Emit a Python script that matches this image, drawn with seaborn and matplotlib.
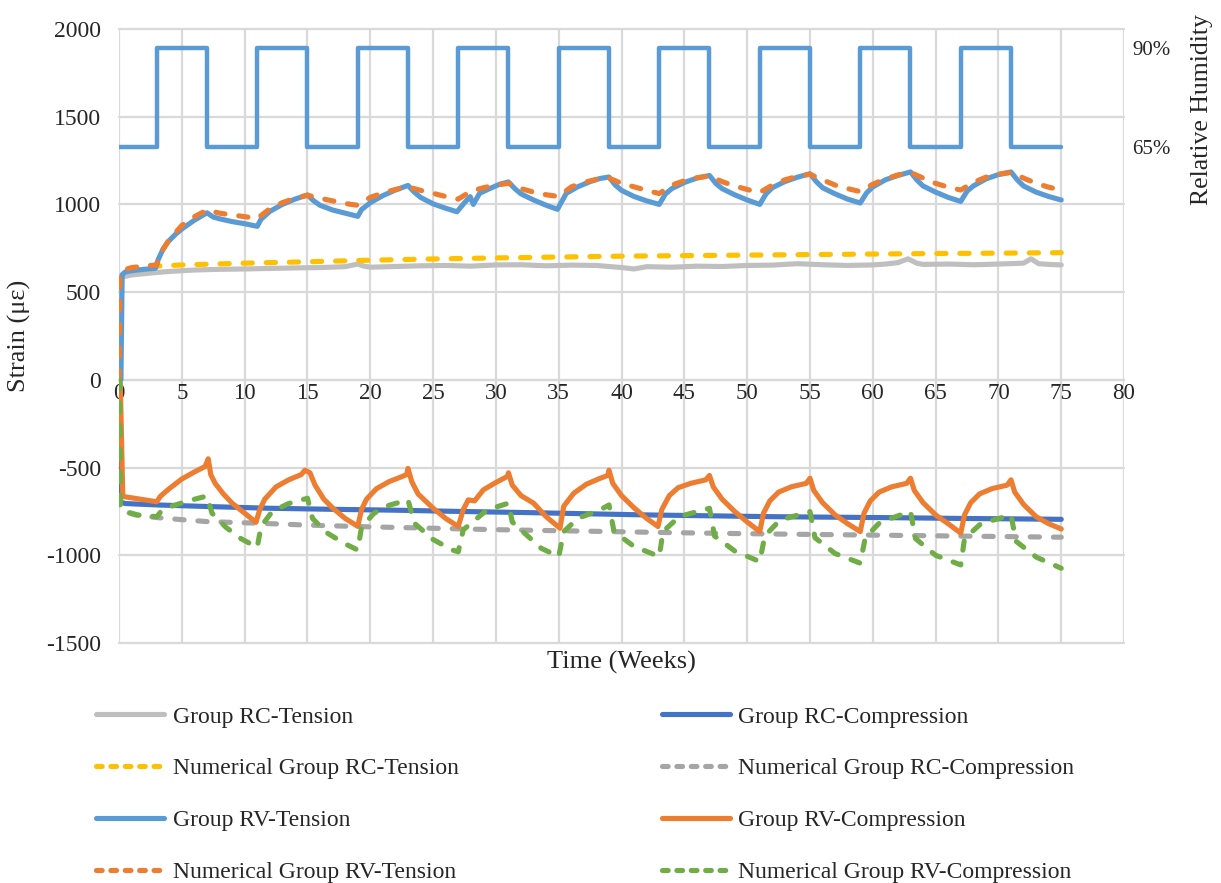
import matplotlib
matplotlib.use("Agg")
import matplotlib.pyplot as plt
from matplotlib.lines import Line2D
import seaborn as sns

# ---- data (weeks, microstrain) ----
rc_t_weeks = [0, 0.1, 0.5, 1, 2, 3, 4, 5, 6, 8, 10, 12, 14, 16, 18, 19, 19.5, 20, 22, 24, 26,
              28, 30, 32, 34, 36, 38, 40, 41, 42, 44, 46, 48, 50, 52, 54, 56, 58, 60, 61, 62,
              62.8, 63.5, 64, 66, 68, 70, 72, 72.6, 73.2, 74, 75]
rc_t_vals = [0, 585, 590, 598, 605, 612, 618, 622, 626, 630, 632, 635, 638, 640, 645, 660, 648,
             642, 646, 650, 652, 648, 655, 656, 650, 654, 652, 640, 632, 645, 642, 648, 646, 652,
             654, 662, 656, 652, 655, 660, 668, 690, 665, 658, 660, 656, 660, 665, 690, 662, 658, 655]

rc_c_weeks = [0, 0.05, 0.5, 3, 7, 12, 17, 22, 27, 32, 37, 42, 47, 52, 57, 62, 67, 72, 75]
rc_c_vals = [0, -695, -705, -713, -722, -732, -738, -743, -750, -756, -763, -770, -775, -780,
             -783, -786, -790, -793, -795]

num_rc_t_weeks = [0, 0.05, 1, 3, 5, 10, 15, 20, 25, 30, 35, 40, 45, 50, 55, 60, 65, 70, 75]
num_rc_t_vals = [0, 610, 632, 648, 655, 665, 673, 682, 689, 695, 700, 705, 708, 711, 714, 717,
                 720, 722, 725]

num_rc_c_weeks = [0, 0.05, 0.5, 1.3, 3, 5, 7, 11, 15, 20, 25, 30, 35, 40, 45, 50, 55, 60, 65, 70, 75]
num_rc_c_vals = [0, -728, -752, -770, -785, -797, -808, -817, -828, -838, -846, -854, -860,
                 -866, -872, -877, -881, -885, -889, -893, -897]

rv_t_weeks = [0.15, 0.25, 0.5, 1, 2, 2.9, 3.1, 3.5, 3.9, 4.5, 5, 6, 7, 7.5, 8, 9, 10, 11,
              11.3, 12, 13, 14, 15, 15.5, 16, 17, 18, 19, 19.3, 20, 21, 22, 23, 23.5, 24, 25,
              26, 26.9, 27.5, 27.95, 28.2, 28.7, 29.5, 30.3, 31, 31.5, 32, 33, 34, 34.9, 35.6,
              36.5, 37.5, 38.3, 39, 39.5, 40, 41, 42, 43, 43.5, 44, 45, 46, 47, 47.5, 48, 49,
              50, 51, 51.5, 52, 53, 54, 55, 55.5, 56, 57, 58, 59, 59.5, 60, 61, 62, 63, 63.5,
              64, 65, 66, 67, 67.5, 68, 69, 70, 71, 71.5, 72, 73, 74, 75]
rv_t_vals = [0, 600, 615, 622, 630, 636, 683, 745, 787, 830, 860, 910, 952, 928, 918, 902, 890,
             875, 915, 960, 1000, 1030, 1054, 1020, 995, 968, 950, 932, 970, 1010, 1050, 1082,
             1108, 1070, 1040, 1003, 978, 958, 1010, 1044, 1000, 1063, 1090, 1115, 1128, 1090,
             1060, 1025, 995, 972, 1063, 1100, 1130, 1148, 1156, 1110, 1080, 1045, 1020, 1000,
             1060, 1090, 1125, 1150, 1165, 1120, 1090, 1055, 1025, 1000, 1060, 1095, 1130, 1155,
             1175, 1130, 1095, 1060, 1030, 1008, 1065, 1100, 1140, 1165, 1185, 1140, 1105, 1070,
             1040, 1017, 1075, 1105, 1145, 1170, 1185, 1140, 1105, 1070, 1045, 1025]

rv_c_weeks = [0.1, 0.3, 1.5, 3, 3.3, 4, 5, 6, 6.85, 7.1, 7.3, 7.65, 8.3, 9, 10, 10.9, 11.2,
              11.6, 12.5, 13.5, 14.5, 14.8, 15.2, 15.6, 16.3, 17, 18, 19, 19.3, 19.7, 20.5,
              21.5, 22.5, 22.9, 23, 23.3, 23.8, 25, 26, 27, 27.4, 27.8, 28.3, 29, 30, 30.9, 31,
              31.3, 32, 33, 34, 35.1, 35.4, 36.2, 37.2, 38.3, 38.9, 39, 39.3, 40, 41, 42, 42.9,
              43.2, 43.8, 44.5, 45.5, 46.7, 47, 47.3, 48, 49, 50, 51, 51.3, 51.8, 52.5, 53.5,
              54.7, 55, 55.3, 56, 57, 58, 59, 59.3, 59.8, 60.5, 61.5, 62.7, 63, 63.3, 64, 65,
              66, 67, 67.3, 67.8, 68.5, 69.5, 70.7, 71, 71.3, 72, 73, 74, 75]
rv_c_vals = [-20, -665, -678, -695, -663, -620, -565, -525, -494, -450, -540, -590, -650, -703,
             -760, -812, -740, -680, -610, -570, -540, -515, -530, -600, -680, -730, -790, -835,
             -740, -680, -620, -580, -552, -540, -505, -580, -650, -732, -790, -836, -740, -684,
             -690, -627, -585, -551, -530, -600, -660, -703, -780, -846, -720, -646, -595, -561,
             -545, -515, -590, -660, -730, -790, -836, -740, -660, -615, -590, -570, -545, -610,
             -680, -750, -810, -865, -760, -690, -640, -610, -590, -561, -630, -700, -770, -820,
             -865, -760, -690, -640, -610, -590, -561, -630, -700, -770, -820, -874, -770, -700,
             -650, -620, -600, -570, -640, -710, -780, -820, -850]

num_rv_t_weeks = [0, 0.05, 0.3, 1, 2, 3, 3.3, 4, 5, 6, 7, 8, 9, 10, 11, 12, 13, 14, 15, 16, 17,
                  18, 19, 20, 21, 22, 23, 24, 25, 26, 27, 28, 29, 30, 31, 32, 33, 34, 35, 36, 37,
                  38, 39, 40, 41, 42, 43, 44, 45, 46, 47, 48, 49, 50, 51, 52, 53, 54, 55, 56, 57,
                  58, 59, 60, 61, 62, 63, 64, 65, 66, 67, 68, 69, 70, 71, 72, 73, 74, 75]
num_rv_t_vals = [0, 600, 625, 640, 648, 655, 720, 800, 880, 930, 968, 950, 940, 930, 920, 975,
                 1010, 1035, 1052, 1035, 1020, 1005, 995, 1040, 1065, 1085, 1100, 1080, 1063,
                 1045, 1030, 1075, 1095, 1110, 1120, 1090, 1070, 1055, 1045, 1100, 1125, 1143,
                 1150, 1120, 1100, 1080, 1062, 1110, 1135, 1152, 1162, 1130, 1105, 1085, 1068,
                 1110, 1140, 1160, 1172, 1140, 1110, 1090, 1073, 1115, 1145, 1168, 1182, 1150,
                 1120, 1098, 1082, 1125, 1155, 1172, 1182, 1150, 1120, 1098, 1082]

num_rv_c_weeks = [0.05, 0.1, 0.5, 1.5, 3, 3.4, 4.2, 5.5, 7, 7.4, 8.5, 9.7, 11, 11.3, 12.2, 13.5,
                  15, 15.4, 16.5, 18, 19, 19.3, 20.3, 21.5, 23, 23.5, 25, 26.5, 27, 27.4, 29.3,
                  31, 31.3, 33.6, 35, 35.4, 36.5, 38.3, 39, 39.4, 41, 43, 43.3, 44.6, 47, 47.4,
                  49, 51, 51.4, 52.6, 55, 55.4, 57, 59, 59.4, 60.6, 63, 63.4, 65, 67, 67.3, 68.6,
                  71, 71.4, 73, 75]
num_rv_c_vals = [0, -722, -751, -770, -780, -745, -720, -690, -662, -760, -840, -905, -955, -836,
                 -750, -705, -675, -790, -870, -935, -970, -840, -760, -715, -684, -817, -910,
                 -969, -980, -855, -741, -703, -810, -960, -1007, -865, -790, -741, -713, -865,
                 -950, -1007, -865, -779, -732, -890, -975, -1036, -890, -800, -751, -900, -990,
                 -1045, -900, -810, -751, -905, -1000, -1055, -905, -820, -770, -920, -1010, -1074]

# relative humidity cycle (%), step changes every 4 weeks
rh_weeks = [0, 3, 7, 11, 15, 19, 23, 27, 31, 35, 39, 43, 47, 51, 55, 59, 63, 67, 71, 75]
rh_vals = [65, 90, 65, 90, 65, 90, 65, 90, 65, 90, 65, 90, 65, 90, 65, 90, 65, 90, 65, 65]

series = [
    ("Group RC-Tension", rc_t_weeks, rc_t_vals, "#BFBFBF", "-"),
    ("Group RC-Compression", rc_c_weeks, rc_c_vals, "#4472C4", "-"),
    ("Numerical Group RC-Tension", num_rc_t_weeks, num_rc_t_vals, "#FFC000", "--"),
    ("Numerical Group RC-Compression", num_rc_c_weeks, num_rc_c_vals, "#A5A5A5", "--"),
    ("Group RV-Tension", rv_t_weeks, rv_t_vals, "#5B9BD5", "-"),
    ("Group RV-Compression", rv_c_weeks, rv_c_vals, "#ED7D31", "-"),
    ("Numerical Group RV-Tension", num_rv_t_weeks, num_rv_t_vals, "#ED7D31", "--"),
    ("Numerical Group RV-Compression", num_rv_c_weeks, num_rv_c_vals, "#70AD47", "--"),
]

sns.set_style("white")
plt.rcParams["font.family"] = ["Liberation Serif", "DejaVu Serif"]
plt.rcParams["axes.unicode_minus"] = False

fig = plt.figure(figsize=(12.21, 8.83), dpi=100)
ax = fig.add_axes([0.0975, 0.2718, 0.8231, 0.6954])

grid_c = "#D9D9D9"
dash = (0, (1.8, 2.7))
for name, wk, val, col, ls in series:
    sns.lineplot(x=wk, y=val, ax=ax, color=col, lw=3.7, label=name, estimator=None,
                 linestyle=ls if ls == "-" else dash, dash_capstyle="round",
                 solid_capstyle="round")

ax.set_xlim(0, 80)
ax.set_ylim(-1500, 2000)
ax.set_xticks(range(0, 81, 5))
ax.set_yticks(range(-1500, 2001, 500))
ax.grid(True, color=grid_c, lw=1.6)
ax.set_axisbelow(True)
for gl in ax.get_xgridlines() + ax.get_ygridlines():
    gl.set_clip_on(False)
for s in ["top", "right", "left"]:
    ax.spines[s].set_visible(False)
ax.spines["bottom"].set_position(("data", 0))
ax.spines["bottom"].set_color(grid_c)
ax.spines["bottom"].set_linewidth(1.6)
ax.spines["bottom"].set_zorder(0.5)
ax.tick_params(axis="x", length=0, labelsize=16.5, pad=2)
ax.tick_params(axis="y", length=0, labelsize=17, pad=13)
ax.set_xlabel("")
ax.set_ylabel("")
ax.get_legend().remove()

# relative humidity on the secondary axis
ax2 = ax.twinx()
sns.lineplot(x=rh_weeks, y=rh_vals, ax=ax2, color="#5B9BD5", lw=3.2, estimator=None,
             drawstyle="steps-post", legend=False)
ax2.set_ylim(-60.0, 94.87)
ax2.set_yticks([65, 90])
ax2.set_yticklabels(["65%", "90%"])
ax2.tick_params(axis="y", length=0, labelsize=15, pad=6)
ax2.set_ylabel("")
for s in ax2.spines.values():
    s.set_visible(False)
ax2.grid(False)

fig.text(19 / 1221, 1 - 336 / 883, "Strain (\u03bc\u03b5)", rotation=90, ha="center",
         va="center", fontsize=19)
fig.text(621 / 1221, 1 - 662 / 883, "Time (Weeks)", ha="center", va="center", fontsize=19)
fig.text(1202 / 1221, 1 - 110 / 883, "Relative Humidity", rotation=90, ha="center",
         va="center", fontsize=18.5)

# legend: Excel shows short round dashes in the keys
keys = []
for name, wk, val, col, ls in series:
    keys.append(Line2D([], [], color=col, lw=3.7, solid_capstyle="round",
                       dash_capstyle="round",
                       linestyle="-" if ls == "-" else (0, (1.1, 1.7))))
order = [0, 2, 4, 6, 1, 3, 5, 7]
fig.legend([keys[i] for i in order], [series[i][0] for i in order], ncol=2,
           loc="upper left", bbox_to_anchor=(96 / 1221, 1 - 706 / 883), frameon=False,
           fontsize=17, handlelength=2.9, handletextpad=0.35, columnspacing=8.6,
           labelspacing=1.28, borderpad=0, borderaxespad=0)

fig.savefig("out.png", dpi=100)
